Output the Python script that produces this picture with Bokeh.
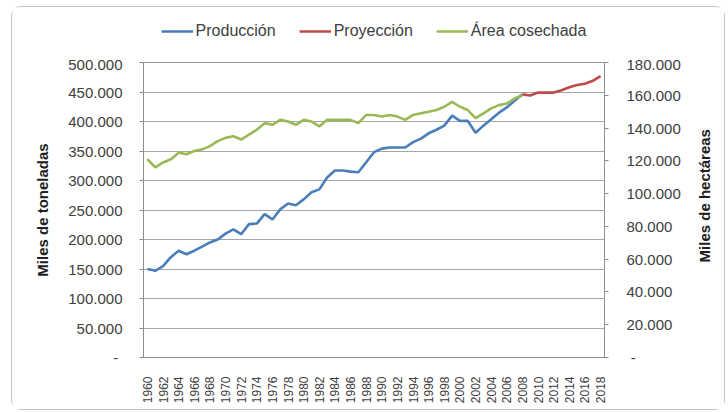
import math
from bokeh.plotting import figure
from bokeh.layouts import column
from bokeh.models import (Range1d, LinearAxis, FixedTicker, CustomJSTickFormatter,
                          Legend, LegendItem)
from bokeh.embed import file_html
from bokeh.resources import INLINE

# ---- data (miles de toneladas / miles de hectáreas) ----
years_prod = list(range(1960, 2009))
produccion = [150, 147, 155, 170, 181, 175, 181, 188, 195, 200,
              210, 217, 209, 226, 227, 243, 234, 251, 261, 258,
              268, 280, 285, 305, 317, 317, 315, 314, 331, 348,
              354, 356, 356, 356, 365, 371, 380, 386, 393, 410,
              401, 401, 381, 393, 404, 415, 424, 435, 446]
produccion = [v * 1000 for v in produccion]

years_proj = list(range(2008, 2019))
proyeccion = [446, 444, 449, 449, 449, 453, 458, 462, 464, 469, 477]
proyeccion = [v * 1000 for v in proyeccion]

years_area = list(range(1960, 2009))
area = [121, 116, 119, 121, 125, 124, 126, 127, 129, 132,
        134, 135, 133, 136, 139, 143, 142, 145, 144, 142,
        145, 144, 141, 145, 145, 145, 145, 143, 148, 148,
        147, 148, 147, 145, 148, 149, 150, 151, 153, 156,
        153, 151, 146, 149, 152, 154, 155, 158, 160]
area = [v * 1000 for v in area]

left_ticks = list(range(0, 500001, 50000))
right_ticks = list(range(0, 180001, 20000))
year_ticks = list(range(1960, 2019, 2))

series_names = ["Producción", "Proyección", "Área cosechada"]
left_title = "Miles de toneladas"
right_title = "Miles de hectáreas"
right_title_at = 58000   # where the (upward-reading) title starts

BLUE = "#4a7ebb"
RED = "#be4b48"
GREEN = "#98b954"
COLORS = [BLUE, RED, GREEN]
FONT = "Liberation Sans"
TXT = "#404040"

# ---------------- main chart ----------------
p = figure(width=712, height=354, output_backend="svg", toolbar_location=None,
           x_range=Range1d(1959.5, 2018.5), y_range=Range1d(0, 500000),
           min_border_left=131, min_border_right=116, min_border_top=7,
           min_border_bottom=52, background_fill_color="white",
           border_fill_color="white")
p.outline_line_color = "#9a9a9a"
p.extra_y_ranges = {"area": Range1d(0, 180000)}

fmt_left = CustomJSTickFormatter(code="""
if (tick == 0) { return "-\u00a0"; }
return Math.round(tick).toString().replace(/\\B(?=(\\d{3})+(?!\\d))/g, ".");
""")
fmt_right = CustomJSTickFormatter(code="""
if (tick == 0) { return "\u00a0-"; }
return Math.round(tick).toString().replace(/\\B(?=(\\d{3})+(?!\\d))/g, ".");
""")

# left axis
ya = p.yaxis[0]
ya.ticker = FixedTicker(ticks=left_ticks)
ya.formatter = fmt_left
ya.axis_label = left_title
ya.axis_label_text_font = FONT
ya.axis_label_text_font_style = "bold"
ya.axis_label_text_font_size = "15px"
ya.axis_label_text_color = "#202020"
ya.axis_label_standoff = 14
ya.major_label_text_font = FONT
ya.major_label_text_font_size = "15px"
ya.major_label_text_color = TXT
ya.major_label_standoff = 17
ya.major_tick_out = 4
ya.major_tick_in = 0
ya.minor_tick_line_color = None
ya.axis_line_color = "#8c8c8c"
ya.major_tick_line_color = "#8c8c8c"

# right axis (values)
ra = LinearAxis(y_range_name="area", ticker=FixedTicker(ticks=right_ticks),
                formatter=fmt_right)
ra.major_label_text_font = FONT
ra.major_label_text_font_size = "15px"
ra.major_label_text_color = TXT
ra.major_label_standoff = 18
ra.major_tick_out = 4
ra.major_tick_in = 0
ra.minor_tick_line_color = None
ra.axis_line_color = "#8c8c8c"
ra.major_tick_line_color = "#8c8c8c"
p.add_layout(ra, "right")

# right axis title (reads bottom to top, as in the original)
rt = LinearAxis(y_range_name="area", ticker=FixedTicker(ticks=[right_title_at]),
                major_label_overrides={right_title_at: right_title})
rt.major_label_orientation = math.pi / 2
rt.major_label_text_font = FONT
rt.major_label_text_font_style = "bold"
rt.major_label_text_font_size = "15px"
rt.major_label_text_color = "#202020"
rt.major_label_standoff = 21
rt.major_tick_out = 0
rt.major_tick_in = 0
rt.major_tick_line_color = None
rt.minor_tick_line_color = None
rt.axis_line_color = None
p.add_layout(rt, "right")

# x axis
xa = p.xaxis[0]
xa.ticker = FixedTicker(ticks=year_ticks)
xa.major_label_orientation = math.pi / 2
xa.major_label_text_font = FONT
xa.major_label_text_font_size = "12px"
xa.major_label_text_color = TXT
xa.major_label_standoff = 19
xa.major_tick_out = 0
xa.major_tick_in = 0
xa.major_tick_line_color = None
xa.minor_tick_line_color = None
xa.axis_line_color = "#8c8c8c"

p.xgrid.grid_line_color = None
p.ygrid.grid_line_color = "#a6a6a6"
p.ygrid.grid_line_width = 1

p.line(years_prod, produccion, line_color=BLUE, line_width=2.6)
p.line(years_proj, proyeccion, line_color=RED, line_width=2.6)
p.line(years_area, area, line_color=GREEN, line_width=2.6, y_range_name="area")

# ---------------- legend strip above the chart ----------------
lg = figure(width=712, height=48, output_backend="svg", toolbar_location=None,
            x_range=Range1d(0, 1), y_range=Range1d(0, 1),
            x_axis_location=None, y_axis_location=None,
            min_border_left=16, min_border_right=0, min_border_top=0,
            min_border_bottom=0, background_fill_color="white",
            border_fill_color="white")
lg.outline_line_color = None
lg.grid.grid_line_color = None
items = []
for name, col in zip(series_names, COLORS):
    # sample kept outside the visible range: only the legend swatch shows
    r = lg.line([-3, -2], [-3, -3], line_color=col, line_width=2.6)
    items.append(LegendItem(label=name, renderers=[r]))
legend = Legend(items=items, orientation="horizontal", location="center",
                glyph_width=32, glyph_height=16, label_standoff=3, spacing=23,
                padding=0, margin=0, border_line_color=None,
                background_fill_alpha=0, label_text_font=FONT,
                label_text_font_size="16px", label_text_color=TXT)
lg.add_layout(legend, "center")

page = column(lg, p, spacing=0)
page.styles = {"border": "1px solid #c4c4c4", "border-radius": "10px",
               "margin-left": "11px", "margin-top": "6px"}

open("out.html", "w").write(file_html(page, INLINE))
